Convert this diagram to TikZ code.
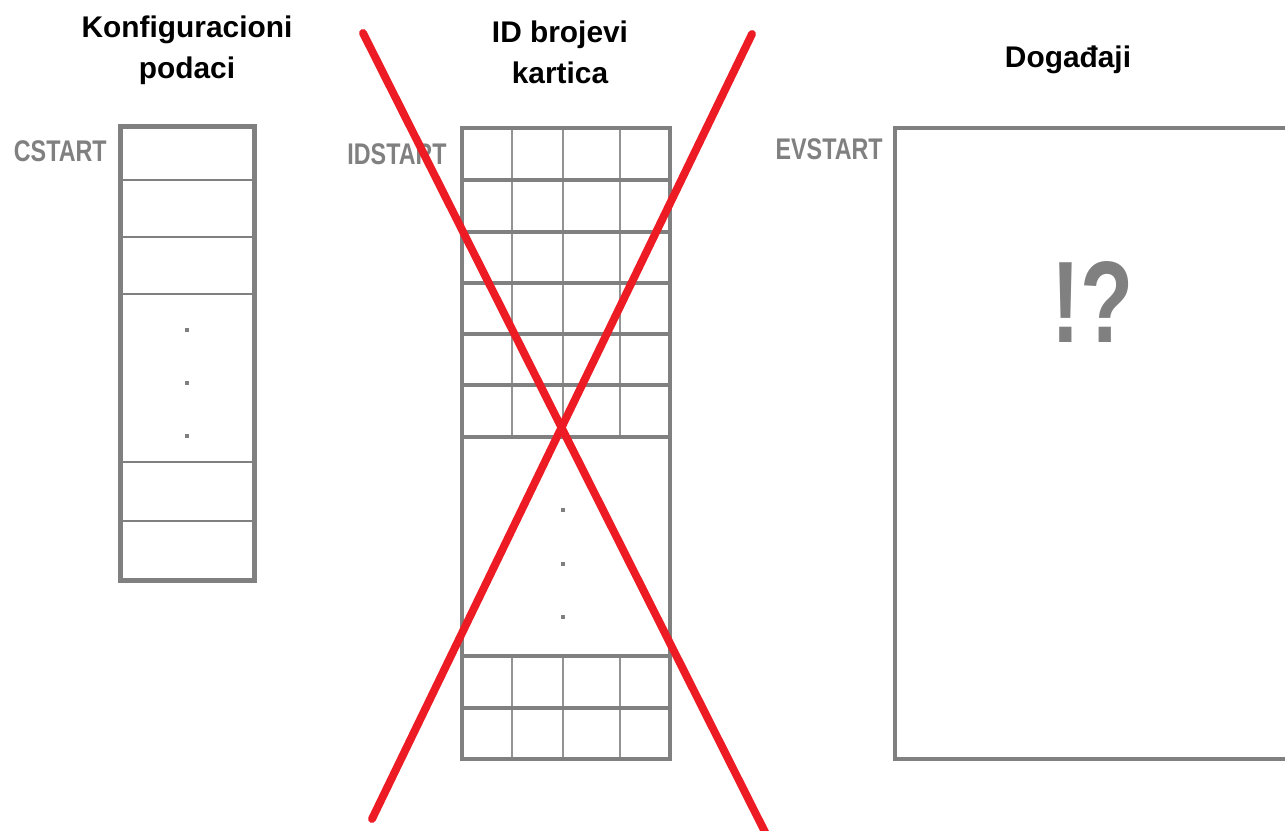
\documentclass[tikz,border=0pt]{standalone}
\usepackage{fontspec}
\setmainfont{Liberation Sans}
\usetikzlibrary{positioning}
\definecolor{memgray}{HTML}{808080}
\definecolor{crossred}{HTML}{ED1C24}
\newcommand{\squeeze}[1]{\scalebox{0.78}[1]{#1}}

\begin{document}
\begin{tikzpicture}[x=0.02cm, y=-0.02cm,
    frame/.style={draw=memgray, line width=2.8pt},
    rowline/.style={draw=memgray, line width=1.1pt},
    thickrow/.style={draw=memgray, line width=2.8pt},
    colline/.style={draw=memgray!85, line width=1.6pt},
    title/.style={font=\fontsize{17}{23.3}\selectfont\bfseries, align=center, text=black},
    startlbl/.style={font=\fontsize{17}{20}\selectfont\bfseries, text=memgray, anchor=east, inner sep=0pt},
    cross/.style={draw=crossred, line width=4.5pt, line cap=round}]
  \useasboundingbox (0,0) rectangle (1285,831);
  \clip (0,0) rectangle (1285,831);
  \def\ds{2}  % half size of a dot

  % ---- Left: configuration data ----
  \node[title] (conftitle) at (187,50) {Konfiguracioni\\podaci};
  \node[startlbl] (cstart) at (107,151) {\squeeze{CSTART}};
  \foreach \y in {180, 237, 294, 462, 521}
    \draw[rowline] (120.5,\y) -- (254.5,\y);
  \foreach \y in {330, 383, 436}
    \fill[memgray] (187-\ds,\y-\ds) rectangle (187+\ds,\y+\ds);
  \draw[frame] (120.5,126.5) rectangle (254.5,580.5);

  % ---- Middle: card ID numbers ----
  \node[title] (idtitle) at (560,52) {ID brojevi\\kartica};
  \node[startlbl] (idstart) at (447,154) {\squeeze{IDSTART}};
  \foreach \x in {512, 563, 620} {
    \draw[colline] (\x,127) -- (\x,437);
    \draw[colline] (\x,656) -- (\x,760);
  }
  \foreach \y in {180, 232, 283, 334, 385, 437, 656, 708}
    \draw[thickrow] (462,\y) -- (670,\y);
  \foreach \y in {510, 564, 617}
    \fill[memgray] (563-\ds,\y-\ds) rectangle (563+\ds,\y+\ds);
  \draw[frame] (462,128) rectangle (670,759);

  % ---- Right: events ----
  \node[title, anchor=base] (evtitle) at (1068,68) {Događaji};
  \node[startlbl] (evstart) at (883,149) {\squeeze{EVSTART}};
  \draw[frame] (895,128) rectangle (1300,759);
  \node[font=\fontsize{66}{70}\selectfont\bfseries, text=memgray] (huh) at (1093,302)
    {\scalebox{0.75}[1]{!?}};

  % ---- Red cross over the ID table ----
  \coordinate (xa) at (363,33);
  \coordinate (xb) at (767,836);
  \coordinate (xc) at (752,34);
  \coordinate (xd) at (372,819);
  \draw[cross] (xa) -- (xb);
  \draw[cross] (xc) -- (xd);
\end{tikzpicture}
\end{document}
